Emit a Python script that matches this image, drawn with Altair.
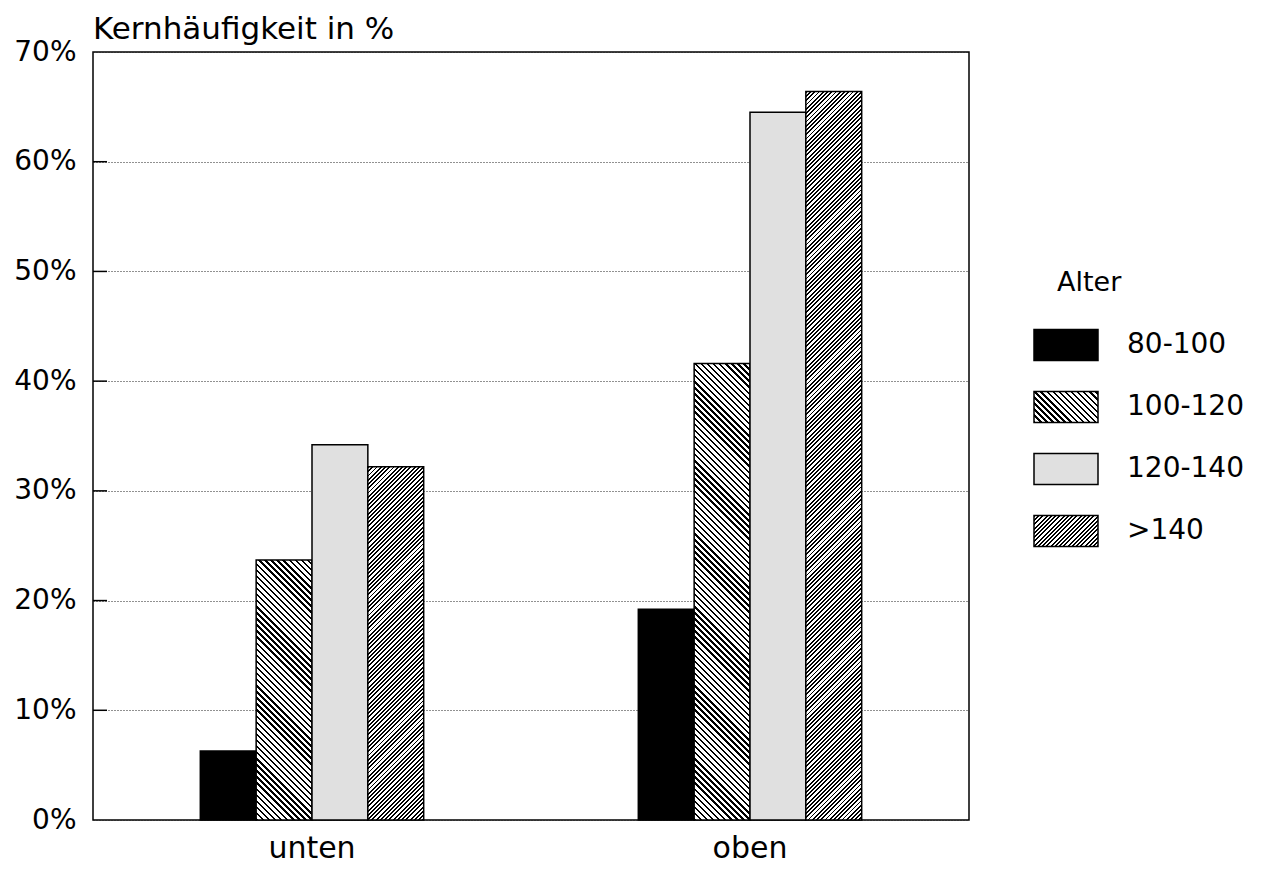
import math
import altair as alt
import pandas as pd

# ---- data ----
lagen = ["unten", "oben"]
alter = ["80-100", "100-120", "120-140", ">140"]
werte_unten = [6.3, 23.7, 34.2, 32.2]
werte_oben = [19.2, 41.6, 64.5, 66.4]
y_ticks = [0, 10, 20, 30, 40, 50, 60, 70]
inner_ticks = [10, 20, 30, 40, 50, 60]
legend_title = "Alter"

PLOT_W = 876
PLOT_H = 768
Y_MAX = 70
PAD_INNER = 0.49
PAD_OUTER = 0.245
FONT = "DejaVu Sans"
SW_W = 64
SW_H = 31

rows = []
for lage, werte in zip(lagen, [werte_unten, werte_oben]):
    for a, v in zip(alter, werte):
        rows.append({"Lage": lage, "Alter": a, "Wert": v})
df = pd.DataFrame(rows)
ticks_df = pd.DataFrame({"Wert": inner_ticks})
legend_df = pd.DataFrame({"Eintrag": [legend_title] + alter,
                          "Art": ["titel"] + ["eintrag"] * len(alter)})


# hatch patterns as striped linear gradients (bounding-box units)
def stripes(w, h, period, frac, back):
    r = h / w
    lam = (1 + r) / (1 + r * r)
    if back:   # lines like "\"
        x1, y1, x2, y2 = 0, 1, lam, 1 - lam * r
    else:      # lines like "/"
        x1, y1, x2, y2 = 0, 0, lam, lam * r
    n = (w + h) / math.sqrt(2) / period
    stops = []
    k = 0
    while k < n:
        a = k / n
        b = min((k + frac) / n, 1.0)
        c = min((k + 1) / n, 1.0)
        stops += [
            {"offset": a, "color": "black"},
            {"offset": b, "color": "black"},
            {"offset": b, "color": "white"},
            {"offset": c, "color": "white"},
        ]
        k += 1
    return {"gradient": "linear", "x1": x1, "y1": y1, "x2": x2, "y2": y2,
            "stops": stops}


PATTERN = {"100-120": (4.3, 0.40, True), ">140": (3.0, 0.45, False)}
SOLID = {"80-100": "black", "120-140": "#e0e0e0"}

step = PLOT_W / (len(lagen) - PAD_INNER + 2 * PAD_OUTER)
bar_w = step * (1 - PAD_INNER) / len(alter)

conditions = []
for _, row in df.iterrows():
    test = f"datum.Lage === '{row['Lage']}' && datum.Alter === '{row['Alter']}'"
    if row["Alter"] in PATTERN:
        p, f, back = PATTERN[row["Alter"]]
        h = row["Wert"] / Y_MAX * PLOT_H
        conditions.append({"test": test, "value": stripes(bar_w, h, p, f, back)})
    else:
        conditions.append({"test": test, "value": SOLID[row["Alter"]]})

legend_conditions = []
for a in alter:
    test = f"datum.Eintrag === '{a}'"
    if a in PATTERN:
        p, f, back = PATTERN[a]
        legend_conditions.append({"test": test, "value": stripes(SW_W, SW_H, p, f, back)})
    else:
        legend_conditions.append({"test": test, "value": SOLID[a]})

x_enc = alt.X("Lage:N", sort=lagen, title=None,
              scale=alt.Scale(paddingInner=PAD_INNER, paddingOuter=PAD_OUTER),
              axis=alt.Axis(labelAngle=0, ticks=False, domain=False,
                            labelFontSize=30, labelFont=FONT, labelColor="black",
                            labelPadding=13))
xo_enc = alt.XOffset("Alter:N", sort=alter)
y_enc = alt.Y("Wert:Q", title=None,
              scale=alt.Scale(domain=[0, Y_MAX], nice=False, zero=True),
              axis=alt.Axis(values=y_ticks, labelExpr="datum.value + '%'",
                            ticks=False, domain=False, grid=True,
                            gridDash=[1, 2], gridColor="#222", gridWidth=1,
                            labelFontSize=28, labelFont=FONT, labelColor="black",
                            labelPadding=17))

bars = alt.Chart(df).mark_bar(stroke="black", strokeWidth=1.5).encode(
    x=x_enc, xOffset=xo_enc, y=y_enc,
    fill=alt.FillValue(value="white", condition=conditions),
)

tick_marks = alt.Chart(ticks_df).mark_rule(color="black", strokeWidth=1.5).encode(
    y=alt.Y("Wert:Q"), x=alt.value(0), x2=alt.value(14),
)

main = alt.layer(bars, tick_marks).properties(
    width=PLOT_W, height=PLOT_H,
    title=alt.TitleParams("Kernhäufigkeit in %", anchor="start", frame="group",
                          fontSize=31, fontWeight="normal", font=FONT,
                          color="black", offset=-8),
    view=alt.ViewBackground(stroke="black", strokeWidth=1.5),
)

# ---- manual legend with hatched swatches ----
leg_y = alt.Y("Eintrag:N", sort=[legend_title] + alter, axis=None,
              scale=alt.Scale(range=[200, 510], paddingInner=0, paddingOuter=0))

swatches = alt.Chart(legend_df).transform_filter(
    alt.datum.Art == "eintrag"
).mark_bar(height={"band": 0.5}, stroke="black", strokeWidth=1.5).encode(
    y=leg_y, x=alt.value(0), x2=alt.value(SW_W),
    fill=alt.FillValue(value="white", condition=legend_conditions),
)

labels = alt.Chart(legend_df).transform_filter(
    alt.datum.Art == "eintrag"
).mark_text(align="left", baseline="middle", fontSize=28, font=FONT,
            color="black").encode(
    y=leg_y, x=alt.value(93), text="Eintrag:N",
)

title_txt = alt.Chart(legend_df).transform_filter(
    alt.datum.Art == "titel"
).mark_text(align="left", baseline="middle", fontSize=27, font=FONT,
            color="black").encode(
    y=leg_y, x=alt.value(23), text="Eintrag:N",
)

legend = alt.layer(swatches, labels, title_txt).properties(
    width=200, height=PLOT_H,
    view=alt.ViewBackground(stroke="transparent", strokeWidth=0),
)

chart = alt.hconcat(main, legend, spacing=63).properties(
    padding={"left": 5, "top": 5, "right": 0, "bottom": 0},
).configure_view(stroke="transparent").configure(background="white")

chart.save("out.html", embed_options={"renderer": "svg", "actions": False})
